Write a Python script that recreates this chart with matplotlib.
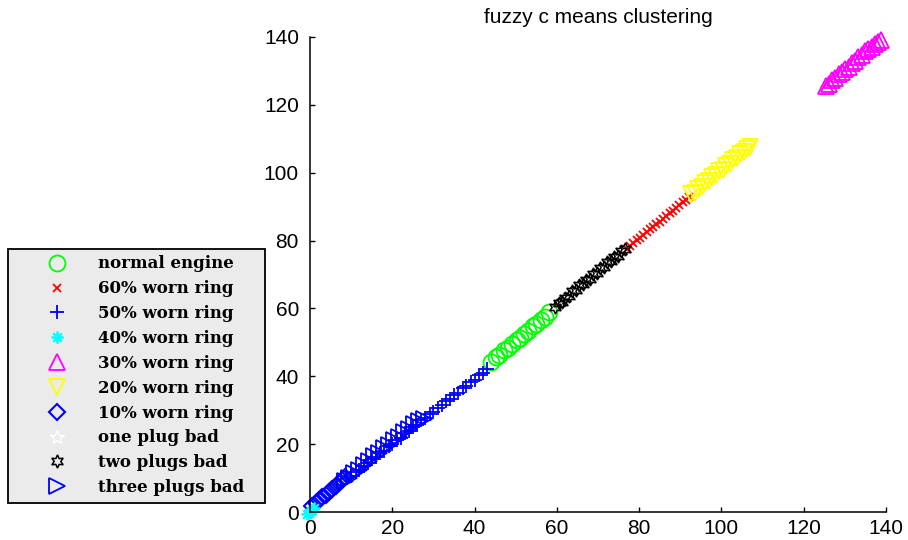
import matplotlib
matplotlib.use("Agg")
import matplotlib.pyplot as plt

# Cluster members (feature 1 vs feature 2) for each engine condition.
normal_x = [44.0, 45.1, 46.0, 47.2, 48.1, 49.0, 50.2, 51.1, 52.0, 53.1, 54.2, 55.0, 56.1, 57.0, 58.2]
normal_y = [44.3, 45.6, 46.2, 47.8, 48.4, 49.5, 50.6, 51.3, 52.5, 53.4, 54.7, 55.3, 56.6, 57.4, 59.0]

worn60_x = [77.0, 77.8, 78.6, 79.4, 80.2, 81.0, 81.8, 82.6, 83.4, 84.2,
            85.0, 85.8, 86.6, 87.4, 88.2, 89.0, 89.8, 90.6, 91.4, 92.2]
worn60_y = [77.6, 78.5, 79.2, 80.1, 80.8, 81.7, 82.4, 83.3, 84.0, 84.9,
            85.6, 86.5, 87.2, 88.1, 88.8, 89.7, 90.4, 91.3, 92.0, 92.8]

worn50_x = [9.1, 10.0, 11.1, 12.0, 13.1, 14.0, 15.1, 16.0, 17.1, 18.0, 19.1, 20.0,
            21.1, 22.0, 23.1, 24.0, 25.1, 26.0, 27.1, 28.0, 29.1, 30.0, 31.1, 32.0,
            33.1, 34.0, 35.1, 36.0, 37.1, 38.0, 39.1, 40.0, 41.1, 42.0, 43.1]
worn50_y = [9.9, 10.5, 11.8, 12.4, 13.7, 14.3, 15.6, 16.2, 17.5, 18.1, 19.4, 20.0,
            21.3, 21.9, 23.2, 23.8, 25.1, 25.7, 27.0, 27.6, 28.9, 29.5, 30.8, 31.4,
            32.7, 33.3, 34.6, 35.2, 36.5, 37.1, 38.4, 39.0, 40.3, 40.9, 42.2]

worn40_x = [-0.8, -0.3, 0.2, 0.6, 1.0]
worn40_y = [-0.6, -0.2, 0.3, 0.7, 1.1]

worn30_x = [125.3, 126.1, 126.9, 127.7, 128.5, 129.3, 130.1, 130.9, 131.7,
            132.5, 133.3, 134.1, 134.9, 135.7, 136.5, 137.3, 138.1, 138.9]
worn30_y = [125.6, 126.2, 127.3, 127.9, 129.0, 129.6, 130.7, 131.3, 132.4,
            133.0, 134.1, 134.7, 135.8, 136.4, 137.2, 137.8, 138.6, 139.2]

worn20_x = [92.6, 93.5, 94.3, 95.2, 96.0, 96.9, 97.7, 98.6, 99.4,
            100.3, 101.1, 102.0, 102.8, 103.7, 104.5, 105.4, 106.2, 107.0]
worn20_y = [93.6, 94.0, 95.3, 95.8, 97.0, 97.5, 98.7, 99.2, 100.4,
            100.9, 102.1, 102.6, 103.8, 104.3, 105.5, 106.0, 107.0, 107.6]

worn10_x = [0.6, 1.4, 2.2, 3.0, 3.8, 4.6, 5.4, 6.2, 7.0, 7.8, 8.6]
worn10_y = [1.7, 2.6, 3.4, 4.3, 5.1, 6.0, 6.8, 7.7, 8.5, 9.4, 10.2]

plug1_x = [0.4, 1.2, 2.0]
plug1_y = [0.5, 1.3, 2.1]

plug2_x = [59.6, 60.4, 61.3, 62.1, 63.0, 63.8, 64.7, 65.5, 66.4, 67.2, 68.1,
           68.9, 69.8, 70.6, 71.5, 72.3, 73.2, 74.0, 74.9, 75.7, 76.5]
plug2_y = [60.3, 61.5, 62.0, 63.2, 63.7, 65.0, 65.4, 66.8, 67.1, 68.5, 68.8,
           70.2, 70.5, 71.9, 72.2, 73.6, 73.9, 75.3, 75.6, 76.8, 77.4]

plug3_x = [8.4, 9.6, 10.8, 12.0, 13.2, 14.4, 15.6, 16.8, 18.0,
           19.2, 20.4, 21.6, 22.8, 24.0, 25.2, 26.4, 27.6]
plug3_y = [9.0, 10.0, 11.6, 12.5, 14.0, 14.9, 16.4, 17.3, 18.8,
           19.7, 21.2, 22.1, 23.6, 24.5, 26.0, 26.8, 27.5]

ticks = [0, 20, 40, 60, 80, 100, 120, 140]

plt.rcParams['font.family'] = ['Liberation Sans', 'DejaVu Sans']

fig = plt.figure(figsize=(9.08, 5.4), dpi=100)
ax = fig.add_axes([310 / 908, 28 / 540, 576 / 908, 475 / 540])

style = dict(linestyle='none', markerfacecolor='none', clip_on=False)

# White stars go first so the rest sit on top of them.
h_p1, = ax.plot(plug1_x, plug1_y, marker='*', color='white', ms=10, mew=1.0,
                label='one plug bad', **style)
h_n, = ax.plot(normal_x, normal_y, marker='o', color='#00ff00', ms=11.5, mew=1.3,
               label='normal engine', **style)
h_60, = ax.plot(worn60_x, worn60_y, marker='x', color='red', ms=6, mew=1.3,
                label='60% worn ring', **style)
h_50, = ax.plot(worn50_x, worn50_y, marker='+', color='blue', ms=10, mew=1.3,
                label='50% worn ring', **style)
h_30, = ax.plot(worn30_x, worn30_y, marker='^', color='magenta', ms=11, mew=1.3,
                label='30% worn ring', **style)
h_20, = ax.plot(worn20_x, worn20_y, marker='v', color='yellow', ms=11, mew=1.3,
                label='20% worn ring', **style)
h_10, = ax.plot(worn10_x, worn10_y, marker='D', color='blue', ms=8.5, mew=1.5,
                label='10% worn ring', **style)
h_p2, = ax.plot(plug2_x, plug2_y, marker=(6, 1, 0), color='black', ms=9.5, mew=1.1,
                label='two plugs bad', **style)
h_p3, = ax.plot(plug3_x, plug3_y, marker='>', color='blue', ms=11, mew=1.3,
                label='three plugs bad', **style)
h_40, = ax.plot(worn40_x, worn40_y, marker=(8, 2, 0), color='cyan', ms=8.5, mew=1.3,
                label='40% worn ring', **style)

ax.set_xlim(0, 140)
ax.set_ylim(0, 140)
ax.set_xticks(ticks)
ax.set_yticks(ticks)
ax.spines['top'].set_visible(False)
ax.spines['right'].set_visible(False)
for side in ('left', 'bottom'):
    ax.spines[side].set_linewidth(1.1)
ax.tick_params(direction='in', length=3.5, width=1.0, labelsize=15)
ax.tick_params(axis='x', pad=5)
ax.tick_params(axis='y', pad=8)

ax.set_title('fuzzy c means clustering', fontsize=15, pad=10)

handles = [h_n, h_60, h_50, h_40, h_30, h_20, h_10, h_p1, h_p2, h_p3]
leg = fig.legend(handles=handles, loc='lower left',
                 bbox_to_anchor=(8 / 908, 37 / 540, 257 / 908, 253 / 540),
                 mode='expand', prop={'family': 'DejaVu Serif', 'weight': 'bold', 'size': 12},
                 frameon=True, fancybox=False, framealpha=1, borderpad=0.42,
                 labelspacing=0.47, handlelength=5.0, handletextpad=0.0,
                 borderaxespad=0)
frame = leg.get_frame()
frame.set_facecolor('#ebebeb')
frame.set_edgecolor('black')
frame.set_linewidth(1.3)

fig.savefig('out.png', dpi=100)
